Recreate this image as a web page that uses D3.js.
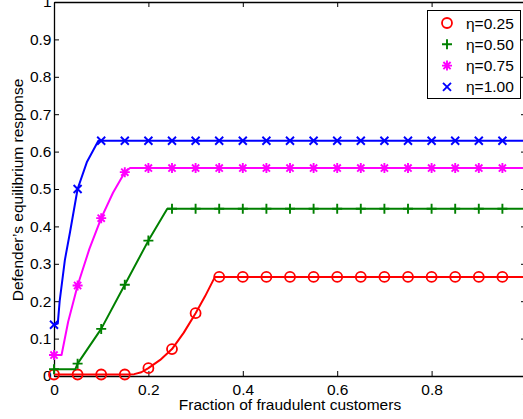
<!DOCTYPE html>
<html>
<head>
<meta charset="utf-8">
<script src="https://cdn.jsdelivr.net/npm/d3@7"></script>
<style>
  body { margin: 0; background: #fff; }
  svg { display: block; }
  text { font-family: "Liberation Sans", Arial, Helvetica, sans-serif; fill: #000; }
</style>
</head>
<body>
<svg id="chart" width="523" height="419"></svg>
<script>
// Sampled fractions of fraudulent customers (marker positions)
const fractions = [0, 0.05, 0.1, 0.15, 0.2, 0.25, 0.3, 0.35, 0.4, 0.45,
                   0.5, 0.55, 0.6, 0.65, 0.7, 0.75, 0.8, 0.85, 0.9, 0.95];

// Defender's equilibrium response at each sampled fraction
const resp025 = [0.004, 0.004, 0.004, 0.004, 0.021, 0.072, 0.168, 0.265, 0.265, 0.265,
                 0.265, 0.265, 0.265, 0.265, 0.265, 0.265, 0.265, 0.265, 0.265, 0.265];
const resp050 = [0.018, 0.033, 0.126, 0.244, 0.362, 0.447, 0.447, 0.447, 0.447, 0.447,
                 0.447, 0.447, 0.447, 0.447, 0.447, 0.447, 0.447, 0.447, 0.447, 0.447];
const resp075 = [0.056, 0.242, 0.422, 0.545, 0.556, 0.556, 0.556, 0.556, 0.556, 0.556,
                 0.556, 0.556, 0.556, 0.556, 0.556, 0.556, 0.556, 0.556, 0.556, 0.556];
const resp100 = [0.137, 0.500, 0.629, 0.629, 0.629, 0.629, 0.629, 0.629, 0.629, 0.629,
                 0.629, 0.629, 0.629, 0.629, 0.629, 0.629, 0.629, 0.629, 0.629, 0.629];

// Additional points of the continuous curves between samples (fraction, response)
const knots025 = [[0.17, 0.005], [0.185, 0.010], [0.225, 0.043], [0.275, 0.116],
                  [0.32, 0.213], [0.341, 0.265], [1, 0.265]];
const knots050 = [[0.045, 0.018], [0.24, 0.447], [1, 0.447]];
const knots075 = [[0.016, 0.056], [0.03, 0.145], [0.075, 0.340], [0.125, 0.490],
                  [0.161, 0.556], [1, 0.556]];
const knots100 = [[0.008, 0.140], [0.012, 0.200], [0.023, 0.310], [0.034, 0.385],
                  [0.07, 0.573], [0.094, 0.629], [1, 0.629]];

const seriesLabels = ["η=0.25", "η=0.50", "η=0.75", "η=1.00"];
const seriesColors = ["#ff0000", "#008000", "#ff00ff", "#0000ff"];
const seriesMarkers = ["circle", "plus", "asterisk", "cross"];
const seriesValues = [resp025, resp050, resp075, resp100];
const seriesKnots = [knots025, knots050, knots075, knots100];

const xTicks = [0, 0.2, 0.4, 0.6, 0.8, 1];
const yTicks = [0, 0.1, 0.2, 0.3, 0.4, 0.5, 0.6, 0.7, 0.8, 0.9, 1];

const svg = d3.select("#chart");
const plotL = 54, plotR = 526, plotT = 2, plotB = 376;
const x = d3.scaleLinear().domain([0, 1]).range([plotL, plotR]);
const y = d3.scaleLinear().domain([0, 1]).range([plotB, plotT]);
const FONT = 15.5;
const TICK = 5;

// Axes box with inward ticks on all four sides
const axes = svg.append("g");
const xAxis = d3.axisBottom(x).tickValues(xTicks).tickSizeInner(-TICK).tickSizeOuter(0)
  .tickPadding(8).tickFormat(d3.format("~g"));
const yAxis = d3.axisLeft(y).tickValues(yTicks).tickSizeInner(-TICK).tickSizeOuter(0)
  .tickPadding(2.5).tickFormat(d3.format("~g"));
const gx = axes.append("g").attr("transform", `translate(0,${plotB})`).call(xAxis);
const gy = axes.append("g").attr("transform", `translate(${plotL},0)`).call(yAxis);
const gxTop = axes.append("g").attr("transform", `translate(0,${plotT})`)
  .call(d3.axisTop(x).tickValues(xTicks).tickSizeInner(-TICK).tickSizeOuter(0).tickFormat(""));
const gyRight = axes.append("g").attr("transform", `translate(${plotR},0)`)
  .call(d3.axisRight(y).tickValues(yTicks).tickSizeInner(-TICK).tickSizeOuter(0).tickFormat(""));
[gx, gy, gxTop, gyRight].forEach(g => {
  g.select(".domain").attr("stroke", "#000").attr("stroke-width", 1.3);
  g.selectAll(".tick line").attr("stroke", "#000").attr("stroke-width", 1);
  g.selectAll("text").attr("font-size", FONT).attr("font-family", "Liberation Sans, Arial, sans-serif").attr("fill", "#000");
});

// Axis titles
svg.append("text")
  .attr("x", (plotL + plotR) / 2).attr("y", 410)
  .attr("text-anchor", "middle").attr("font-size", FONT)
  .text("Fraction of fraudulent customers");
svg.append("text")
  .attr("transform", `translate(23,190) rotate(-90)`)
  .attr("text-anchor", "middle").attr("font-size", FONT)
  .text("Defender’s equilibrium response");

// Marker shapes
function markerPath(type) {
  const p = d3.path();
  if (type === "plus") {
    p.moveTo(-5, 0); p.lineTo(5, 0); p.moveTo(0, -5); p.lineTo(0, 5);
  } else if (type === "cross") {
    p.moveTo(-4, -4); p.lineTo(4, 4); p.moveTo(-4, 4); p.lineTo(4, -4);
  } else if (type === "asterisk") {
    p.moveTo(-5, 0); p.lineTo(5, 0); p.moveTo(0, -5); p.lineTo(0, 5);
    p.moveTo(-3.6, -3.6); p.lineTo(3.6, 3.6); p.moveTo(-3.6, 3.6); p.lineTo(3.6, -3.6);
  }
  return p.toString();
}
function drawMarker(g, type, color, cx, cy) {
  if (type === "circle") {
    g.append("circle").attr("cx", cx).attr("cy", cy).attr("r", 5)
      .attr("fill", "none").attr("stroke", color).attr("stroke-width", 1.8);
  } else {
    g.append("path").attr("transform", `translate(${cx},${cy})`)
      .attr("d", markerPath(type)).attr("fill", "none")
      .attr("stroke", color).attr("stroke-width", 1.9);
  }
}

const line = d3.line().x(d => x(d[0])).y(d => y(d[1]));
const plot = svg.append("g");

seriesValues.forEach((vals, i) => {
  const pts = fractions.map((f, j) => [f, vals[j]])
    .concat(seriesKnots[i])
    .sort((a, b) => a[0] - b[0]);
  plot.append("path").datum(pts)
    .attr("d", line).attr("fill", "none")
    .attr("stroke", seriesColors[i]).attr("stroke-width", 2)
    .attr("stroke-linejoin", "round");
  const mg = plot.append("g");
  fractions.forEach((f, j) => drawMarker(mg, seriesMarkers[i], seriesColors[i], x(f), y(vals[j])));
});

// Legend
const lg = svg.append("g");
lg.append("rect").attr("x", 427.5).attr("y", 10.5).attr("width", 93).attr("height", 88)
  .attr("fill", "#fff").attr("stroke", "#000").attr("stroke-width", 1);
seriesLabels.forEach((lab, i) => {
  const cy = 23 + i * 21.3;
  drawMarker(lg, seriesMarkers[i], seriesColors[i], 447, cy);
  lg.append("text").attr("x", 466).attr("y", cy + 5.5)
    .attr("font-size", FONT).text(lab);
});
</script>
</body>
</html>
